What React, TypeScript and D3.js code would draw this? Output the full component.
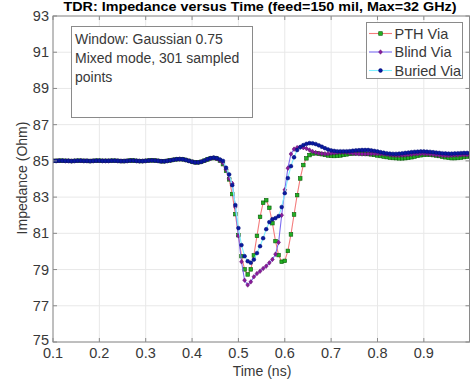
import React from "react";
import * as d3 from "d3";

// Sample times: 301 points over 0..2 ns -> step 1/150 ns; shown 0.1..1.0 ns
const sampleIndex = d3.range(15, 151);
const timeNs = sampleIndex.map((k) => k / 150);

const pthVia = [
  85.00, 85.00, 85.01, 85.01, 85.00, 85.00, 84.99, 85.00, 85.01, 85.01,
  85.00, 85.00, 84.99, 85.00, 85.01, 85.01, 85.00, 85.00, 85.00, 85.01,
  85.01, 85.00, 84.99, 84.99, 85.00, 85.02, 85.02, 85.00, 84.99, 84.99,
  85.00, 85.02, 85.03, 85.02, 85.00, 84.98, 84.98, 85.00, 85.03, 85.06,
  85.09, 85.10, 85.09, 85.05, 85.00, 84.95, 84.92, 84.92, 84.95, 85.01,
  85.08, 85.14, 85.16, 85.13, 85.02, 84.82, 84.45, 83.98, 83.17, 82.06,
  80.90, 79.74, 79.01, 78.73, 79.01, 79.78, 80.86, 81.91, 82.69, 82.83,
  82.41, 81.56, 80.57, 79.80, 79.43, 79.48, 80.03, 80.94, 82.04, 83.11,
  84.03, 84.77, 85.14, 85.32, 85.41,
  85.42, 85.40, 85.37, 85.33, 85.30, 85.28, 85.27, 85.28, 85.30, 85.33,
  85.36, 85.39, 85.41, 85.42, 85.42, 85.41, 85.40, 85.38, 85.36, 85.33,
  85.30, 85.27, 85.24, 85.21, 85.18, 85.16, 85.15, 85.14, 85.14, 85.15,
  85.17, 85.20, 85.24, 85.28, 85.31, 85.33, 85.34, 85.34, 85.32, 85.30,
  85.27, 85.23, 85.20, 85.17, 85.15, 85.15, 85.16, 85.18, 85.21, 85.24, 85.26,
];

const blindVia = [
  85.00, 85.00, 85.01, 85.01, 85.00, 85.00, 84.99, 85.00, 85.01, 85.01,
  85.00, 85.00, 84.99, 85.00, 85.01, 85.01, 85.00, 85.00, 85.00, 85.01,
  85.01, 85.00, 84.99, 84.99, 85.00, 85.02, 85.02, 85.00, 84.99, 84.99,
  85.00, 85.02, 85.03, 85.02, 85.00, 84.98, 84.98, 85.00, 85.03, 85.06,
  85.09, 85.10, 85.09, 85.05, 85.00, 84.95, 84.92, 84.92, 84.95, 85.01,
  85.08, 85.14, 85.16, 85.12, 85.02, 84.88, 84.52, 84.02, 83.76, 82.46,
  80.86, 79.43, 78.41, 78.15, 78.32, 78.60, 78.78, 78.91, 79.06, 79.19,
  79.37, 79.56, 79.85, 80.50, 82.00, 83.40, 84.60, 85.38, 85.65, 85.73,
  85.76, 85.73, 85.68, 85.60, 85.52,
  85.46, 85.42, 85.40, 85.39, 85.40, 85.42, 85.44, 85.46, 85.47, 85.47,
  85.46, 85.44, 85.42, 85.40, 85.39, 85.38, 85.38, 85.39, 85.40, 85.40,
  85.40, 85.39, 85.37, 85.35, 85.33, 85.31, 85.30, 85.30, 85.31, 85.32,
  85.34, 85.36, 85.38, 85.39, 85.40, 85.40, 85.39, 85.37, 85.35, 85.33,
  85.31, 85.30, 85.29, 85.29, 85.30, 85.31, 85.32, 85.33, 85.33, 85.33, 85.32,
];

const buriedVia = [
  85.00, 85.00, 85.01, 85.01, 85.00, 85.00, 84.99, 85.00, 85.01, 85.01,
  85.00, 85.00, 84.99, 85.00, 85.01, 85.01, 85.00, 85.00, 85.00, 85.01,
  85.01, 85.00, 84.99, 84.99, 85.00, 85.02, 85.02, 85.00, 84.99, 84.99,
  85.00, 85.02, 85.03, 85.02, 85.00, 84.98, 84.98, 85.00, 85.03, 85.06,
  85.09, 85.10, 85.09, 85.05, 85.00, 84.95, 84.92, 84.92, 84.95, 85.02,
  85.09, 85.15, 85.18, 85.15, 85.08, 85.00, 84.62, 84.25, 83.66, 82.56,
  81.29, 80.35, 79.74, 79.46, 79.38, 79.55, 79.91, 80.29, 80.73, 81.23,
  81.62, 81.78, 81.84, 81.95, 82.45, 83.22, 84.05, 84.71, 85.20, 85.60,
  85.76, 85.87, 85.94, 85.98, 85.97,
  85.93, 85.86, 85.78, 85.70, 85.63, 85.58, 85.55, 85.53, 85.53, 85.53,
  85.53, 85.54, 85.56, 85.58, 85.59, 85.60, 85.60, 85.60, 85.58, 85.55,
  85.52, 85.48, 85.45, 85.42, 85.40, 85.39, 85.39, 85.40, 85.42, 85.44,
  85.46, 85.48, 85.50, 85.51, 85.52, 85.52, 85.51, 85.50, 85.48, 85.46,
  85.44, 85.42, 85.41, 85.40, 85.40, 85.41, 85.42, 85.43, 85.44, 85.44, 85.43,
];

const xTicks = [0.1, 0.2, 0.3, 0.4, 0.5, 0.6, 0.7, 0.8, 0.9];
const yTicks = [75, 77, 79, 81, 83, 85, 87, 89, 91, 93];
const seriesNames = ["PTH Via", "Blind Via", "Buried Via"];
const noteLines = ["Window: Gaussian 0.75", "Mixed mode, 301 sampled", "points"];

const W = 471;
const H = 389;
const M = { left: 53, top: 16, right: 469.5, bottom: 342 };
const FONT = "'Liberation Sans', Arial, sans-serif";
const TXT = "#383838";

const series = [
  { name: seriesNames[0], values: pthVia, line: "#f47c7c", fill: "#22b022", stroke: "#0b5a0b", shape: "square" },
  { name: seriesNames[1], values: blindVia, line: "#7b6cf0", fill: "#8a1a9a", stroke: "#5a0a6a", shape: "diamond" },
  { name: seriesNames[2], values: buriedVia, line: "#7fefff", fill: "#0a1aa0", stroke: "#000a70", shape: "circle" },
];

function Marker({ shape, x, y, fill, stroke }: any) {
  if (shape === "square")
    return <rect x={x - 1.8} y={y - 1.8} width={3.6} height={3.6} fill={fill} stroke={stroke} strokeWidth={0.6} />;
  if (shape === "diamond")
    return <path d={`M${x},${y - 2.3}L${x + 1.9},${y}L${x},${y + 2.3}L${x - 1.9},${y}Z`} fill={fill} stroke={stroke} strokeWidth={0.5} />;
  return <circle cx={x} cy={y} r={1.9} fill={fill} stroke={stroke} strokeWidth={0.5} />;
}

export default function App() {
  const x = d3.scaleLinear().domain([0.1, 0.9985]).range([M.left, M.right]);
  const y = d3.scaleLinear().domain([75, 93]).range([M.bottom, M.top]);
  const line = d3
    .line<number>()
    .x((_, i) => x(timeNs[i]))
    .y((d) => y(d));

  return (
    <svg width={W} height={H} style={{ position: "absolute", left: 0, top: 0, background: "#fff" }} fontFamily={FONT}>
      <defs>
        <clipPath id="plot">
          <rect x={M.left} y={M.top} width={M.right - M.left} height={M.bottom - M.top} />
        </clipPath>
      </defs>
      <rect x={0} y={0} width={W} height={H} fill="#fff" />
      {xTicks.map((t) => (
        <line key={"gx" + t} x1={x(t)} x2={x(t)} y1={M.top} y2={M.bottom} stroke="#e8e8e8" strokeWidth={1} />
      ))}
      {yTicks.map((t) => (
        <line key={"gy" + t} x1={M.left} x2={M.right} y1={y(t)} y2={y(t)} stroke="#e8e8e8" strokeWidth={1} />
      ))}
      <g clipPath="url(#plot)">
        {series.map((s) => (
          <g key={s.name}>
            <path d={line(s.values) || ""} fill="none" stroke={s.line} strokeWidth={1.1} />
            {s.values.map((v, i) => (
              <Marker key={i} shape={s.shape} x={x(timeNs[i])} y={y(v)} fill={s.fill} stroke={s.stroke} />
            ))}
          </g>
        ))}
      </g>
      <rect x={M.left} y={M.top} width={M.right - M.left} height={M.bottom - M.top} fill="none" stroke="#8a8a8a" strokeWidth={1} />
      {xTicks.map((t) => (
        <g key={"tx" + t}>
          <line x1={x(t)} x2={x(t)} y1={M.bottom} y2={M.bottom - 4} stroke="#8a8a8a" />
          <line x1={x(t)} x2={x(t)} y1={M.top} y2={M.top + 4} stroke="#8a8a8a" />
          <text x={x(t)} y={358} textAnchor="middle" fontSize={14.5} fill={TXT}>
            {t.toFixed(1)}
          </text>
        </g>
      ))}
      {yTicks.map((t) => (
        <g key={"ty" + t}>
          <line x1={M.left} x2={M.left + 4} y1={y(t)} y2={y(t)} stroke="#8a8a8a" />
          <line x1={M.right} x2={M.right - 4} y1={y(t)} y2={y(t)} stroke="#8a8a8a" />
          <text x={49} y={y(t) + (t === 75 ? 3 : 5)} textAnchor="end" fontSize={14.5} fill={TXT}>
            {t}
          </text>
        </g>
      ))}
      <text x={262} y={376} textAnchor="middle" fontSize={14} fill={TXT}>
        Time (ns)
      </text>
      <text transform="translate(27,178) rotate(-90)" textAnchor="middle" fontSize={14} fill={TXT}>
        Impedance (Ohm)
      </text>
      <text x={260} y={11} textAnchor="middle" fontSize={13} fontWeight="bold" fill="#000" textLength={393} lengthAdjust="spacingAndGlyphs">
        TDR: Impedance versus Time (feed=150 mil, Max=32 GHz)
      </text>
      <rect x={71.5} y={26.5} width={181} height={91} fill="#fff" stroke="#8a8a8a" strokeWidth={1} />
      {noteLines.map((l, i) => (
        <text key={l} x={75} y={44 + i * 19} fontSize={14} fill={TXT}>
          {l}
        </text>
      ))}
      <rect x={366.5} y={22.5} width={96} height={56} fill="#fff" stroke="#8a8a8a" strokeWidth={1} />
      {series.map((s, i) => {
        const ly = 33.5 + i * 18.5;
        return (
          <g key={"lg" + s.name}>
            <line x1={369} x2={392} y1={ly} y2={ly} stroke={s.line} strokeWidth={1.1} />
            <Marker shape={s.shape} x={380.5} y={ly} fill={s.fill} stroke={s.stroke} />
            <text x={394.5} y={ly + 5} fontSize={14.5} fill={TXT}>
              {s.name}
            </text>
          </g>
        );
      })}
    </svg>
  );
}
